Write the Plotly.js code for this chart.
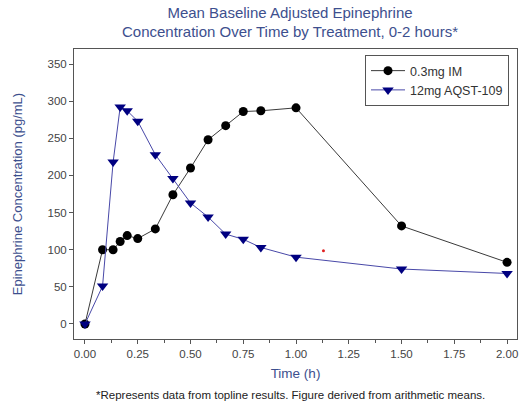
<!DOCTYPE html>
<html>
<head>
<meta charset="utf-8">
<script src="https://cdn.plot.ly/plotly-3.0.1.min.js"></script>
<style>html,body{margin:0;padding:0;background:#fff}#chart{width:519px;height:407px}</style>
</head>
<body>
<div id="chart"></div>
<script>
// Time points (hours)
const timeIM = [0, 0.0833, 0.1333, 0.1667, 0.2, 0.25, 0.3333, 0.4167, 0.5, 0.5833, 0.6667, 0.75, 0.8333, 1.0, 1.5, 2.0];
const valuesIM = [0, 100, 100, 111, 119, 115, 128, 174, 210, 248, 267, 286, 287, 291, 132, 83];
const timeAQST = [0, 0.0833, 0.1333, 0.1667, 0.2, 0.25, 0.3333, 0.4167, 0.5, 0.5833, 0.6667, 0.75, 0.8333, 1.0, 1.5, 2.0];
const valuesAQST = [0, 51, 218, 292, 287, 273, 228, 196, 163, 144, 121, 114, 103, 90, 74, 68];
const seriesNames = ["0.3mg IM", "12mg AQST-109"];
const strayX = [1.13];
const strayY = [98.5];
const xTicks = [0, 0.25, 0.5, 0.75, 1.0, 1.25, 1.5, 1.75, 2.0];
const xTickText = ["0.00", "0.25", "0.50", "0.75", "1.00", "1.25", "1.50", "1.75", "2.00"];
const yTicks = [0, 50, 100, 150, 200, 250, 300, 350];

const titleBlue = "#3d4f8e";
const traces = [
  {x: timeIM, y: valuesIM, name: seriesNames[0], type: "scatter", mode: "lines+markers",
   line: {color: "#3a3a3a", width: 1}, marker: {symbol: "circle", size: 9, color: "#000"}},
  {x: timeAQST, y: valuesAQST, name: seriesNames[1], type: "scatter", mode: "lines+markers",
   line: {color: "#4848a8", width: 1}, marker: {symbol: "triangle-down", size: 10, color: "#000080"}},
  {x: strayX, y: strayY, type: "scatter", mode: "markers", showlegend: false, hoverinfo: "skip",
   marker: {size: 3, color: "#e02020"}}
];

const plotW = 519 - 74 - 2, plotH = 290;
const layout = {
  width: 519, height: 407,
  margin: {l: 74, r: 2, t: 49, b: 68},
  paper_bgcolor: "#fff", plot_bgcolor: "#fff",
  font: {family: "Liberation Sans, Arial, sans-serif", size: 11.5, color: "#444"},
  title: {text: "Mean Baseline Adjusted Epinephrine<br>Concentration Over Time by Treatment, 0-2 hours*",
    x: 290/519, xanchor: "center", xref: "container", yref: "container", y: 1 - 17.5/407, yanchor: "middle",
    font: {family: "Liberation Sans, Arial, sans-serif", size: 15, color: titleBlue}},
  xaxis: {range: [-0.052, 2.047], tickvals: xTicks, ticktext: xTickText, ticks: "outside", ticklen: 4,
    tickcolor: "#555", showgrid: false, zeroline: false, showline: true, mirror: true, linecolor: "#555", linewidth: 1,
    minor: {dtick: 0.125, tick0: 0, ticks: "outside", ticklen: 3, tickcolor: "#555", showgrid: false},
    title: {text: "Time (h)", standoff: 9, font: {size: 13.5, color: titleBlue}}, tickfont: {size: 11.5, color: "#444"}},
  yaxis: {range: [-20.2, 370.2], tickvals: yTicks, ticks: "outside", ticklen: 4, tickcolor: "#555",
    showgrid: false, zeroline: false, showline: true, mirror: true, linecolor: "#555", linewidth: 1,
    title: {text: "Epinephrine Concentration (pg/mL)", standoff: 21, font: {size: 13, color: titleBlue}},
    tickfont: {size: 11.5, color: "#444"}},
  legend: {x: (365 - 74) / plotW, y: 1 - (55 - 49) / plotH, xref: "paper", yref: "paper", xanchor: "left", yanchor: "top",
    bgcolor: "#fff", bordercolor: "#555", borderwidth: 1, font: {size: 12.5, color: "#333"},
    tracegroupgap: 0, itemwidth: 34},
  annotations: [{text: "*Represents data from topline results. Figure derived from arithmetic means.",
    xref: "paper", yref: "paper", x: (290 - 74) / plotW, y: -56 / plotH, xanchor: "center", yanchor: "middle",
    showarrow: false, font: {size: 11.5, color: "#222"}}]
};

Plotly.newPlot("chart", traces, layout, {displayModeBar: false, staticPlot: true});
</script>
</body>
</html>
